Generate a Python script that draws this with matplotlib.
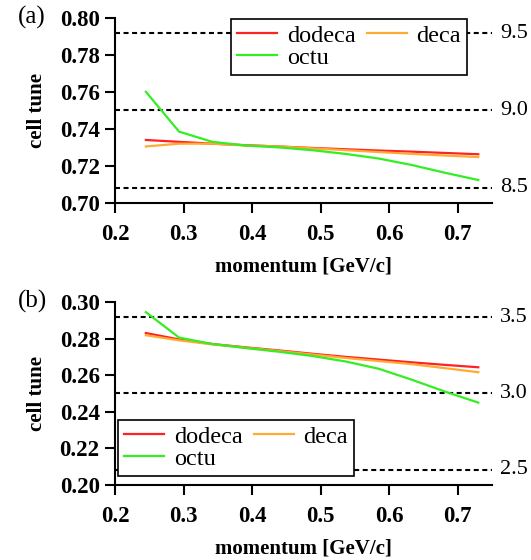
#!/usr/bin/env python3
"""Cell tune vs momentum for dodeca / deca / octu lattices, two panels."""

import matplotlib
matplotlib.use("Agg")
import matplotlib.pyplot as plt
import matplotlib.transforms as mtransforms

plt.rcParams["font.family"] = ["Liberation Serif", "DejaVu Serif"]

N_CELLS = 12

momentum = [0.245, 0.2935, 0.342, 0.3905, 0.439, 0.4875, 0.536, 0.5845, 0.633, 0.6815, 0.73]

# panel (a)
dodeca_a = [0.7340, 0.7330, 0.7320, 0.7312, 0.7305, 0.7297, 0.7290, 0.7283, 0.7277, 0.7270, 0.7263]
deca_a = [0.7305, 0.7320, 0.7320, 0.7310, 0.7305, 0.7295, 0.7285, 0.7275, 0.7265, 0.7256, 0.7248]
octu_a = [0.7600, 0.7385, 0.7330, 0.7310, 0.7300, 0.7285, 0.7265, 0.7240, 0.7205, 0.7163, 0.7124]
total_a = [9.5, 9.0, 8.5]

# panel (b)
dodeca_b = [0.2830, 0.2795, 0.2770, 0.2752, 0.2735, 0.2717, 0.2700, 0.2685, 0.2670, 0.2656, 0.2643]
deca_b = [0.2818, 0.2790, 0.2768, 0.2750, 0.2732, 0.2713, 0.2694, 0.2677, 0.2660, 0.2638, 0.2616]
octu_b = [0.2944, 0.2805, 0.2770, 0.2748, 0.2728, 0.2705, 0.2675, 0.2635, 0.2575, 0.2510, 0.2450]
total_b = [3.5, 3.0, 2.5]

xticks = [0.2, 0.3, 0.4, 0.5, 0.6, 0.7]

COLORS = {"dodeca": "#ff2222", "deca": "#ffaa33", "octu": "#33ee22"}
TICK_FS = 16.5


def draw_panel(ax, series, totals, ylim, yticks, tag, leg_anchor, xlabel_y):
    trans = mtransforms.blended_transform_factory(ax.transAxes, ax.transData)
    for t in totals:
        ax.axhline(t / N_CELLS, color="black", linestyle=(0, (2.4, 1.7)), linewidth=1.5, zorder=1)
        ax.text(1.021, t / N_CELLS, f"{t:.1f}", transform=trans, va="center", ha="left",
                fontsize=16, clip_on=False)

    lines = {}
    for name, vals in series:
        lines[name], = ax.plot(momentum, vals, color=COLORS[name], linewidth=1.6,
                               label=name, zorder=3)

    ax.set_xlim(0.2, 0.75)
    ax.set_ylim(*ylim)
    ax.set_xticks(xticks)
    ax.set_yticks(yticks)
    ax.set_xticklabels([f"{v:.1f}" for v in xticks], fontweight="bold")
    ax.set_yticklabels([f"{v:.2f}" for v in yticks], fontweight="bold")
    ax.tick_params(labelsize=TICK_FS, width=1.5, length=7, direction="out")
    ax.tick_params(axis="x", pad=8)
    ax.tick_params(axis="y", pad=4)
    ax.spines["top"].set_visible(False)
    ax.spines["right"].set_visible(False)
    ax.spines["left"].set_linewidth(1.5)
    ax.spines["bottom"].set_linewidth(1.5)

    ax.set_xlabel("momentum [GeV/c]", fontsize=15, fontweight="bold")
    ax.set_ylabel("cell tune", fontsize=15, fontweight="bold")
    ax.xaxis.set_label_coords(0.5, xlabel_y)
    ax.yaxis.set_label_coords(-0.18, 0.5)
    ax.text(-0.257, 1.0, tag, transform=ax.transAxes, fontsize=18, va="center", ha="left")

    # column-wise fill: dodeca / octu in column 1, deca in column 2
    order = ["dodeca", "octu", "deca"]
    leg = ax.legend([lines[n] for n in order], order, loc=leg_anchor[0],
                    bbox_to_anchor=leg_anchor[1], ncol=2, fontsize=17.5, frameon=True,
                    fancybox=False, framealpha=1.0, borderpad=0.25, labelspacing=0.0,
                    handlelength=1.65, handletextpad=0.4, columnspacing=0.45,
                    borderaxespad=0.0)
    leg.get_frame().set_edgecolor("black")
    leg.get_frame().set_linewidth(1.2)
    leg.set_zorder(5)


fig = plt.figure(figsize=(5.31, 5.6), dpi=100)
ax_a = fig.add_axes([0.2166, 0.6375, 0.710, 0.331])
ax_b = fig.add_axes([0.2166, 0.1339, 0.710, 0.327])

draw_panel(ax_a, [("dodeca", dodeca_a), ("deca", deca_a), ("octu", octu_a)],
           total_a, (0.70, 0.80), [0.70, 0.72, 0.74, 0.76, 0.78, 0.80], "(a)",
           ("upper left", (0.308, 0.995)), -0.286)
draw_panel(ax_b, [("dodeca", dodeca_b), ("deca", deca_b), ("octu", octu_b)],
           total_b, (0.20, 0.30), [0.20, 0.22, 0.24, 0.26, 0.28, 0.30], "(b)",
           ("lower left", (0.008, 0.049)), -0.29)

fig.savefig("out.png", dpi=100)
